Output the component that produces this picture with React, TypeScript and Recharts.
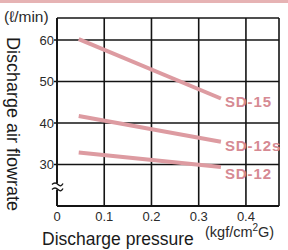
import React from 'react';
import {
    LineChart,
    Line,
    XAxis,
    YAxis,
    CartesianGrid,
    ReferenceDot,
} from 'recharts';

// data
const xTicks = [0, 0.1, 0.2, 0.3, 0.4];
const yTicks = [30, 40, 50, 60];

const seriesNames = ['SD-15', 'SD-12s', 'SD-12'];
const sd15Pressure = [0.046, 0.347];
const sd15Flow = [60.2, 45.9];
const sd12sPressure = [0.046, 0.347];
const sd12sFlow = [41.7, 35.5];
const sd12Pressure = [0.046, 0.347];
const sd12Flow = [32.9, 29.4];

const PINK = '#dd9ba1';
const TAG = '#d68a93';
const INK = '#141414';
const FONT = '"Liberation Sans", Arial, sans-serif';
const NARROW = '"Liberation Sans Narrow", "Liberation Sans", Arial, sans-serif';

const toPoints = (xs: number[], ys: number[]) => xs.map((x, i) => ({ p: x, q: ys[i] }));

const series = [
    { name: seriesNames[0], data: toPoints(sd15Pressure, sd15Flow), dy: 5 },
    { name: seriesNames[1], data: toPoints(sd12sPressure, sd12sFlow), dy: 5 },
    { name: seriesNames[2], data: toPoints(sd12Pressure, sd12Flow), dy: 8 },
];

// name tag next to the last point of each line
const endLabel = (name: string, last: number, dy: number) => (props: any) => {
    if (props.index !== last) return null;
    return (
        <text
            x={props.x + 4}
            y={props.y + dy}
            fill={TAG}
            fontSize={15}
            fontWeight="bold"
            letterSpacing={0.9}
            fontFamily={FONT}
            dominantBaseline="middle"
        >
            {name}
        </text>
    );
};

// the small "break" mark on the y axis
const AxisBreak = (props: any) => {
    const { cx, cy } = props;
    return (
        <g>
            <rect x={cx - 3} y={cy - 3} width={6} height={6} fill="#fff" />
            <path d={`M${cx - 5},${cy - 2} q3,-3 6,0 t5,-1`} stroke={INK} strokeWidth={1.3} fill="none" />
            <path d={`M${cx - 5},${cy + 3} q3,-3 6,0 t5,-1`} stroke={INK} strokeWidth={1.3} fill="none" />
        </g>
    );
};

export default function App() {
    return (
        <div style={{ position: 'absolute', left: 0, top: 0, width: 288, height: 250, background: '#fff', fontFamily: FONT }}>
            <div style={{ position: 'absolute', left: 0, top: 0, width: 288, height: 3, background: '#e6b3b4' }} />
            <LineChart width={288} height={250} margin={{ top: 18, right: 9, left: 27, bottom: 24 }}>
                <CartesianGrid stroke={INK} strokeWidth={1.6} horizontal vertical />
                <XAxis
                    type="number"
                    dataKey="p"
                    domain={[0, 0.47]}
                    ticks={xTicks}
                    allowDataOverflow
                    height={20}
                    tickLine={false}
                    tickSize={2}
                    tickMargin={4}
                    axisLine={{ stroke: INK, strokeWidth: 1.8 }}
                    tick={{ fill: '#2a2a2a', fontSize: 13, fontFamily: NARROW }}
                />
                <YAxis
                    type="number"
                    dataKey="q"
                    domain={[20, 65.3]}
                    ticks={yTicks}
                    allowDataOverflow
                    width={30}
                    tickSize={3}
                    tickMargin={0}
                    tickLine={{ stroke: INK, strokeWidth: 1.5 }}
                    axisLine={{ stroke: INK, strokeWidth: 1.8 }}
                    tick={{ fill: '#2a2a2a', fontSize: 13, fontFamily: FONT }}
                />
                {series.map((s) => (
                    <Line
                        key={s.name}
                        data={s.data}
                        dataKey="q"
                        type="linear"
                        stroke={PINK}
                        strokeWidth={4}
                        dot={false}
                        isAnimationActive={false}
                        label={endLabel(s.name, s.data.length - 1, s.dy)}
                    />
                ))}
                <ReferenceDot x={0} y={24.7} r={0} shape={AxisBreak} ifOverflow="visible" />
            </LineChart>
            <div style={{ position: 'absolute', left: 4, top: 8, fontSize: 15.5, color: '#2a2a2a', whiteSpace: 'nowrap' }}>
                (ℓ/min)
            </div>
            <div
                style={{
                    position: 'absolute',
                    left: 2,
                    top: 37,
                    writingMode: 'vertical-rl',
                    fontSize: 18,
                    color: '#1a1a1a',
                    whiteSpace: 'nowrap',
                }}
            >
                Discharge air flowrate
            </div>
            <div style={{ position: 'absolute', left: 42, top: 229, fontSize: 17.5, color: '#1a1a1a', whiteSpace: 'nowrap' }}>
                Discharge pressure
            </div>
            <div style={{ position: 'absolute', left: 205, top: 222, fontSize: 14.5, color: '#2a2a2a', whiteSpace: 'nowrap' }}>
                (kgf/cm<sup style={{ fontSize: 10 }}>2</sup>G)
            </div>
        </div>
    );
}
